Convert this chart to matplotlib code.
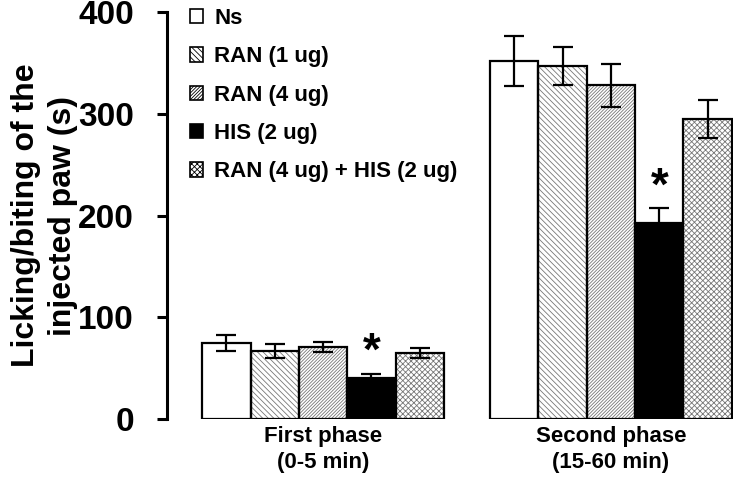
import matplotlib.pyplot as plt
import numpy as np
from matplotlib.patches import Patch

plt.rcParams['font.family'] = ['Liberation Sans', 'DejaVu Sans']
plt.rcParams['font.weight'] = 'bold'
plt.rcParams['hatch.linewidth'] = 0.6

# 資料
phases = ['First phase\n(0-5 min)', 'Second phase\n(15-60 min)']
groups = ['Ns', 'RAN (1 ug)', 'RAN (4 ug)', 'HIS (2 ug)', 'RAN (4 ug) + HIS (2 ug)']
means = {
    'Ns': [75, 352],
    'RAN (1 ug)': [67, 347],
    'RAN (4 ug)': [71, 328],
    'HIS (2 ug)': [40, 193],
    'RAN (4 ug) + HIS (2 ug)': [65, 295],
}
sems = {
    'Ns': [8, 25],
    'RAN (1 ug)': [7, 19],
    'RAN (4 ug)': [5, 21],
    'HIS (2 ug)': [4, 14],
    'RAN (4 ug) + HIS (2 ug)': [5, 19],
}
significant = 'HIS (2 ug)'

styles = {
    'Ns': dict(color='white', hatch=None),
    'RAN (1 ug)': dict(color='white', hatch='\\\\\\\\\\\\'),
    'RAN (4 ug)': dict(color='white', hatch='//////////'),
    'HIS (2 ug)': dict(color='black', hatch=None),
    'RAN (4 ug) + HIS (2 ug)': dict(color='white', hatch='xxxxxx'),
}

fig = plt.figure(figsize=(7.33, 4.86), dpi=100)
ax = fig.add_axes([0.228, 0.138, 0.772, 0.837])

x = np.arange(len(phases))
w = 0.168
handles = []
for i, g in enumerate(groups):
    pos = x + (i - 2) * w
    st = styles[g]
    # 填色 + 斜線（灰色）
    ax.bar(pos, means[g], w, color=st['color'], hatch=st['hatch'],
           edgecolor='#777777', linewidth=0, zorder=2)
    # 黑色外框
    ax.bar(pos, means[g], w, fill=False, edgecolor='black', linewidth=1.6, zorder=3)
    ax.errorbar(pos, means[g], yerr=sems[g], fmt='none', ecolor='black',
                elinewidth=1.6, capsize=7, capthick=1.6, zorder=4)
    if g == significant:
        for p, m, s in zip(pos, means[g], sems[g]):
            ax.text(p, m + s + 9, '*', ha='center', va='baseline',
                    fontsize=33, fontweight='bold')
    h = Patch(facecolor=st['color'], hatch=st['hatch'], edgecolor='black', linewidth=1.2)
    handles.append(h)

ax.set_xlim(-0.542, 1.424)
ax.set_ylim(0, 400)
ax.set_yticks([0, 100, 200, 300, 400])
ax.set_xticks(x)
ax.set_xticklabels(phases, fontsize=16, fontweight='bold', linespacing=1.3)
ax.tick_params(axis='x', length=0, pad=5)
ax.tick_params(axis='y', width=2.2, length=7, labelsize=24, direction='out', pad=17)
for lab in ax.get_yticklabels():
    lab.set_fontweight('bold')
for s in ['top', 'right', 'bottom']:
    ax.spines[s].set_visible(False)
ax.spines['left'].set_linewidth(2.2)

ax.set_ylabel('Licking/biting of the\ninjected paw (s)', fontsize=23,
              fontweight='bold', labelpad=0, linespacing=1.3)

ax.legend(handles, groups, loc='upper left', bbox_to_anchor=(0.024, 1.032),
          frameon=False, fontsize=16, handlelength=0.6, handleheight=0.6,
          handletextpad=0.5, labelspacing=0.78, borderaxespad=0)

fig.savefig('out.png', dpi=100)
